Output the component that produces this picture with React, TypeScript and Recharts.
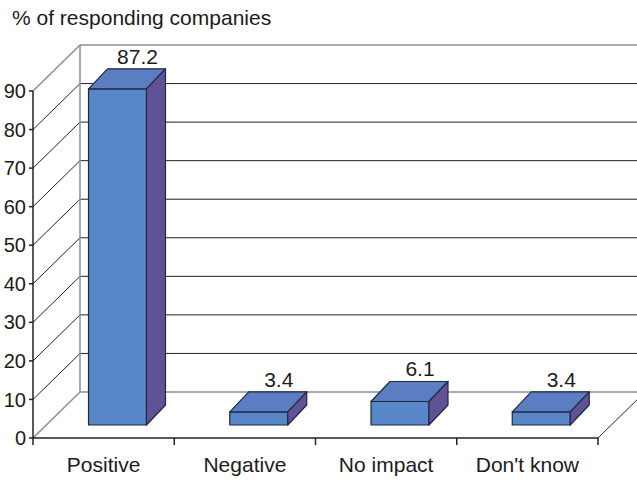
import { BarChart, Bar, XAxis, YAxis, CartesianGrid, LabelList } from "recharts";

const categories = ["Positive", "Negative", "No impact", "Don't know"];
const shares = [87.2, 3.4, 6.1, 3.4];
const yTicks = [0, 10, 20, 30, 40, 50, 60, 70, 80, 90];

const data = categories.map((name, i) => ({ name, value: shares[i] }));

const FONT = '"Liberation Sans", Arial, sans-serif';
const INK = "#1b1b1b";
const WALL = "#8e8e8e";
const GRID = "#222222";
const FRONT = "#5787c6";
const TOP = "#5b7dc1";
const SIDE = "#605395";
const OUTLINE = "#1f2940";

// oblique projection of the Excel-style 3D chart
const WALL_DX = 47;
const WALL_DY = -46;
const BAR_DX = 13.5;
const BAR_DY = -13;
const DEPTH_DX = 19;
const DEPTH_DY = -20;

function GridLine(props: any) {
  const { x1, x2, y1, y, height } = props;
  const bx = x1 + WALL_DX;
  const by = y1 + WALL_DY;
  const isTop = Math.abs(y1 - y) < 0.5;
  const isFloor = Math.abs(y1 - (y + height)) < 0.5;
  const color = isTop || isFloor ? WALL : GRID;
  const w = isTop || isFloor ? 1.5 : 1;
  return (
    <g key={`grid-${y1}`}>
      <line x1={x1} y1={y1} x2={bx} y2={by} stroke={color} strokeWidth={w} />
      <line x1={bx} y1={by} x2={x2 + WALL_DX} y2={by} stroke={color} strokeWidth={w} />
      {isTop && (
        <line x1={bx} y1={by} x2={bx} y2={y + height + WALL_DY} stroke={WALL} strokeWidth={1.5} />
      )}
      {isFloor && (
        <line x1={x2} y1={y1} x2={x2 + WALL_DX} y2={by} stroke={GRID} strokeWidth={1} />
      )}
    </g>
  );
}

function Bar3D(props: any) {
  const { x, y, width, height } = props;
  if (!height || height <= 0) return null;
  const fx = x + BAR_DX;
  const top = y + BAR_DY;
  const bottom = y + height + BAR_DY;
  const right = fx + width;
  return (
    <g stroke={OUTLINE} strokeWidth={1.2} strokeLinejoin="round">
      <rect x={fx} y={top} width={width} height={height} fill={FRONT} />
      <polygon
        points={`${fx},${top} ${fx + DEPTH_DX},${top + DEPTH_DY} ${right + DEPTH_DX},${top + DEPTH_DY} ${right},${top}`}
        fill={TOP}
      />
      <polygon
        points={`${right},${top} ${right + DEPTH_DX},${top + DEPTH_DY} ${right + DEPTH_DX},${bottom + DEPTH_DY} ${right},${bottom}`}
        fill={SIDE}
      />
    </g>
  );
}

function ValueLabel(props: any) {
  const { x, y, width, value } = props;
  return (
    <text
      x={x + width / 2 + BAR_DX + 20}
      y={y + BAR_DY + DEPTH_DY - 5}
      textAnchor="middle"
      fontFamily={FONT}
      fontSize={21}
      fill={INK}
    >
      {value}
    </text>
  );
}

function CategoryTick(props: any) {
  const { x, y, payload, index, visibleTicksCount } = props;
  const half = payload && payload.offset ? payload.offset : 70.6;
  const last = index === visibleTicksCount - 1;
  return (
    <g>
      <line x1={x - half} y1={y} x2={x - half} y2={y + 7} stroke={GRID} strokeWidth={1.5} />
      {last && <line x1={x + half} y1={y} x2={x + half} y2={y + 7} stroke={GRID} strokeWidth={1.5} />}
      <text x={x} y={y + 34} textAnchor="middle" fontFamily={FONT} fontSize={21} fill={INK}>
        {payload.value}
      </text>
    </g>
  );
}

export default function App() {
  return (
    <div style={{ position: "absolute", left: 0, top: 0, width: 637, height: 480, background: "#fff" }}>
      <div
        style={{
          position: "absolute",
          left: 12,
          top: 6,
          fontFamily: FONT,
          fontSize: 21,
          lineHeight: "24px",
          color: INK,
          whiteSpace: "nowrap",
        }}
      >
        % of responding companies
      </div>
      <BarChart
        width={637}
        height={480}
        data={data}
        margin={{ top: 91, right: 39, bottom: 0, left: 0 }}
        barSize={58}
      >
        <CartesianGrid vertical={false} horizontal={GridLine} />
        <XAxis
          dataKey="name"
          height={42}
          axisLine={{ stroke: GRID, strokeWidth: 1.5 }}
          tickLine={false}
          tickSize={0}
          tickMargin={0}
          tick={CategoryTick}
          interval={0}
        />
        <YAxis
          width={33}
          domain={[0, 90]}
          ticks={yTicks}
          interval={0}
          axisLine={{ stroke: GRID, strokeWidth: 1.5 }}
          tickLine={{ stroke: GRID, strokeWidth: 1.5 }}
          tickSize={4}
          tickMargin={3}
          tick={{ fontFamily: FONT, fontSize: 20, fill: INK }}
        />
        <Bar dataKey="value" shape={Bar3D} isAnimationActive={false}>
          <LabelList dataKey="value" content={ValueLabel} />
        </Bar>
      </BarChart>
    </div>
  );
}
